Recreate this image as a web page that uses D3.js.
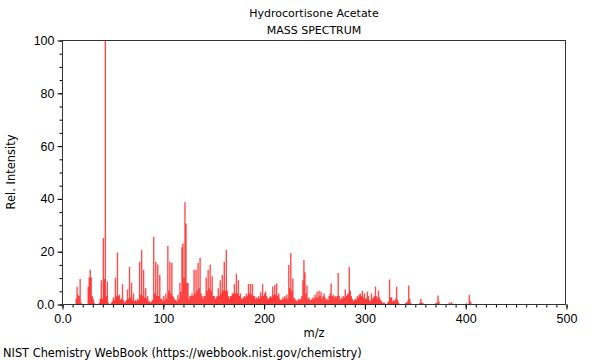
<!DOCTYPE html>
<html>
<head>
<meta charset="utf-8">
<script src="https://cdn.jsdelivr.net/npm/d3@7"></script>
<style>
  body { margin: 0; background: #fff; }
  svg { display: block; font-family: "DejaVu Sans", sans-serif; }
  .axis path, .axis line { stroke: #000; }
  .axis text { font-size: 12.5px; fill: #000; }
</style>
</head>
<body>
<svg width="600" height="360"></svg>
<script>
// DATA
var titleText = "Hydrocortisone Acetate";
var subTitle = "MASS SPECTRUM";
var xTicks = [0, 100, 200, 300, 400, 500];
var yTicks = [0, 20, 40, 60, 80, 100];

var mz = [
  14, 15, 16, 17, 18, 19, 26, 27, 28, 29, 30, 31, 32, 37, 38, 39, 40, 41, 42, 43,
  44, 45, 46, 49, 50, 51, 52, 53, 54, 55, 56, 57, 58, 59, 60, 61, 62, 63, 64, 65,
  66, 67, 68, 69, 70, 71, 72, 73, 74, 75, 76, 77, 78, 79, 80, 81, 82, 83, 84, 85,
  86, 87, 88, 89, 90, 91, 92, 93, 94, 95, 96, 97, 98, 99, 100, 101, 102, 103, 104, 105,
  106, 107, 108, 109, 110, 111, 112, 113, 114, 115, 116, 117, 118, 119, 120, 121, 122, 123, 124, 125,
  126, 127, 128, 129, 130, 131, 132, 133, 134, 135, 136, 137, 138, 139, 140, 141, 142, 143, 144, 145,
  146, 147, 148, 149, 150, 151, 152, 153, 154, 155, 156, 157, 158, 159, 160, 161, 162, 163, 164, 165,
  166, 167, 168, 169, 170, 171, 172, 173, 174, 175, 176, 177, 178, 179, 180, 181, 182, 183, 184, 185,
  186, 187, 188, 189, 190, 191, 192, 193, 194, 195, 196, 197, 198, 199, 200, 201, 202, 203, 204, 205,
  206, 207, 208, 209, 210, 211, 212, 213, 214, 215, 216, 217, 218, 219, 220, 221, 222, 223, 224, 225,
  226, 227, 228, 229, 230, 231, 232, 233, 234, 235, 236, 237, 238, 239, 240, 241, 242, 243, 244, 245,
  246, 247, 248, 249, 250, 251, 252, 253, 254, 255, 256, 257, 258, 259, 260, 261, 262, 263, 264, 265,
  266, 267, 268, 269, 270, 271, 272, 273, 274, 275, 276, 277, 278, 279, 280, 281, 282, 283, 284, 285,
  286, 287, 288, 289, 290, 291, 292, 293, 294, 295, 296, 297, 298, 299, 300, 301, 302, 303, 304, 305,
  306, 307, 308, 309, 310, 311, 312, 313, 314, 315, 316, 317, 318, 319, 320, 323, 324, 325, 326, 327,
  328, 329, 330, 331, 332, 333, 334, 341, 342, 343, 344, 345, 346, 355, 356, 357, 358, 371, 372, 373,
  374, 384, 386, 387, 401, 404, 405, 406
];

var intensity = [
  2, 6.5, 3.5, 3, 9.5, 0.5, 6.5, 10, 13, 10, 3, 2, 0.5, 0.5, 2, 9, 2, 25, 9.5, 100,
  3, 8.5, 0.5, 0.5, 1, 2.5, 1.5, 10, 3, 19.5, 3, 3.5, 1.5, 2, 7.5, 1.5, 0.5, 1, 1.5, 5.5,
  2, 14, 2.5, 8, 1.5, 4, 1, 1.5, 1, 2, 1.5, 16, 3.5, 20.5, 3, 13, 2.5, 6, 2, 3,
  1, 1, 0.5, 1, 1.5, 25.5, 4, 16, 3, 15, 3, 11, 2, 2, 1, 3, 1.5, 4, 2, 22,
  5, 16, 4, 15.5, 3, 2.5, 1.5, 1.5, 1, 3.5, 2, 8, 4.5, 21.5, 23, 10, 38.5, 30.5, 8, 8,
  2, 3, 3, 4, 3, 13, 4, 13, 5, 15.5, 6, 17.5, 4, 3, 2, 3, 3, 10, 5, 13,
  6, 15, 5, 10.5, 3, 3, 2, 2.5, 3, 6, 3, 9, 4, 11, 5, 16, 5, 20.5, 5, 3,
  2, 3, 3, 4, 4, 7.5, 4, 11.5, 4, 9, 3, 4, 2, 2, 2.5, 3, 2.5, 4, 3, 7.6,
  4, 7.6, 3.5, 7.6, 3, 3, 2, 2.5, 2, 3, 2, 4.5, 3, 7.5, 3, 4, 4.7, 3, 2, 2,
  2.5, 3, 2.5, 6.6, 3.5, 7.2, 3.5, 7.8, 3, 4, 2, 1.5, 1.5, 2.5, 2, 3, 2, 3.5, 2, 14.8,
  6, 19.3, 5, 9.7, 2.5, 2, 1.5, 1, 1.5, 2, 1.5, 2, 3, 9, 16.7, 12, 4, 7, 2, 2.5,
  1.5, 1.5, 2, 2.5, 2, 3.5, 2.5, 4.6, 2.5, 5, 3, 4.6, 2, 3, 4, 2.5, 1.5, 2, 1.5, 3,
  4, 7.8, 3, 3.5, 2.5, 3, 2.5, 3, 11.7, 3, 1.5, 2.5, 2, 3, 2.5, 5.6, 3, 3.5, 4, 14,
  5, 3, 2, 1, 1.5, 2, 1.5, 3, 2.5, 3.5, 4, 3, 5, 2.5, 4, 2, 2, 4.7, 3, 1.5,
  1, 4, 2, 2.5, 3, 6.6, 3, 2, 5, 2.5, 1.5, 1, 0.5, 0.5, 0.5, 0.5, 1, 9.3, 2.5, 2.5,
  1, 1.5, 1, 2, 6.5, 1.5, 0.5, 0.5, 0.5, 1, 7, 2, 0.5, 0.5, 2, 0.5, 0.5, 0.5, 0.5, 3.2,
  1, 0.5, 0.8, 0.3, 0.3, 3.5, 1, 0.3
];

var peaks = mz.map(function(d, i) { return [d, intensity[i]]; });

var svg = d3.select("svg");

var x = d3.scaleLinear().domain([0, 500]).range([62, 566]);
var y = d3.scaleLinear().domain([0, 100]).range([304, 40]);

// TITLES

svg.append("text")
    .attr("x", 314).attr("y", 17)
    .attr("text-anchor", "middle")
    .style("font-size", "11px")
    .text(titleText);

svg.append("text")
    .attr("x", 314).attr("y", 34)
    .attr("text-anchor", "middle")
    .style("font-size", "11px")
    .text(subTitle);

// PEAKS

svg.append("g")
    .attr("class", "peaks")
  .selectAll("line")
  .data(peaks)
  .enter().append("line")
    .attr("x1", function(d) { return x(d[0]); })
    .attr("x2", function(d) { return x(d[0]); })
    .attr("y1", y(0))
    .attr("y2", function(d) { return y(d[1]); })
    .attr("stroke", "rgba(255,0,0,0.7)")
    .attr("stroke-width", 1.4);

// AXES

var fmtX = function(d) { return d === 0 ? "0.0" : d3.format("d")(d); };

svg.append("g")
    .attr("class", "axis")
    .attr("transform", "translate(0.5," + (y(0) + 0.5) + ")")
    .call(d3.axisBottom(x).tickValues(d3.range(0, 501, 10)).tickSize(3).tickFormat(""))
    .call(function(g) { g.select(".domain").remove(); });

svg.append("g")
    .attr("class", "axis")
    .attr("transform", "translate(0.5," + (y(0) + 0.5) + ")")
    .call(d3.axisBottom(x).tickValues(xTicks).tickSize(5).tickPadding(5).tickFormat(fmtX))
    .call(function(g) { g.select(".domain").remove(); });

svg.append("g")
    .attr("class", "axis")
    .attr("transform", "translate(" + (x(0) + 0.5) + ",0.5)")
    .call(d3.axisLeft(y).tickValues(d3.range(0, 101, 5)).tickSize(3).tickFormat(""))
    .call(function(g) { g.select(".domain").remove(); });

svg.append("g")
    .attr("class", "axis")
    .attr("transform", "translate(" + (x(0) + 0.5) + ",0.5)")
    .call(d3.axisLeft(y).tickValues(yTicks).tickSize(5).tickPadding(3).tickFormat(fmtX))
    .call(function(g) { g.select(".domain").remove(); });

// FRAME

svg.append("rect")
    .attr("x", x(0) + 0.5).attr("y", y(100) + 0.5)
    .attr("width", x(500) - x(0) - 1)
    .attr("height", y(0) - y(100))
    .attr("fill", "none")
    .attr("stroke", "#333");

// LABELS

svg.append("text")
    .attr("x", 314).attr("y", 337)
    .attr("text-anchor", "middle")
    .style("font-size", "11.5px")
    .text("m/z");

svg.append("text")
    .attr("transform", "translate(15,172) rotate(-90)")
    .attr("text-anchor", "middle")
    .style("font-size", "11.5px")
    .text("Rel. Intensity");

svg.append("text")
    .attr("x", 3).attr("y", 357)
    .style("font-size", "11.4px")
    .text("NIST Chemistry WebBook (https://webbook.nist.gov/chemistry)");
</script>
</body>
</html>
